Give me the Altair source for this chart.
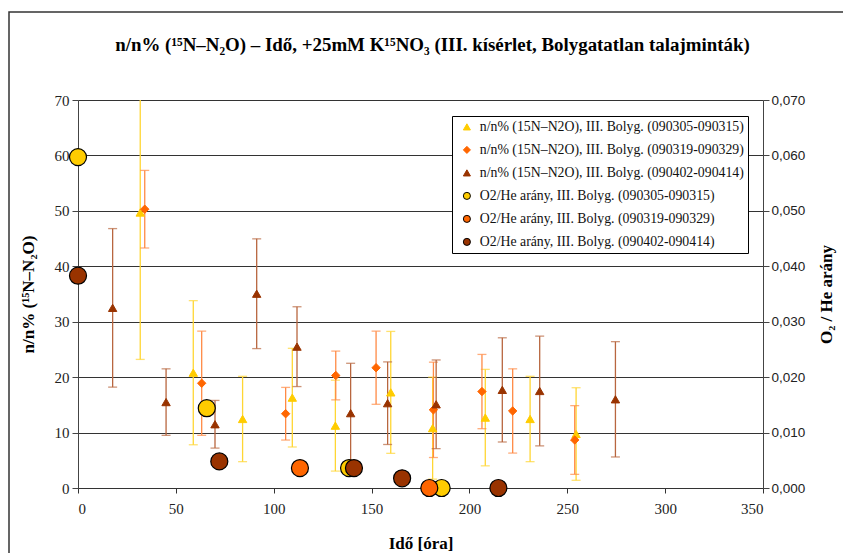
import altair as alt
import pandas as pd

# Series names (legend order) and their styling
SERIES = [
    "n/n% (15N–N2O), III. Bolyg. (090305-090315)",
    "n/n% (15N–N2O), III. Bolyg. (090319-090329)",
    "n/n% (15N–N2O), III. Bolyg. (090402-090414)",
    "O2/He arány, III. Bolyg. (090305-090315)",
    "O2/He arány, III. Bolyg. (090319-090329)",
    "O2/He arány, III. Bolyg. (090402-090414)",
]
FILL = ["#FFCC00", "#FF6600", "#993300", "#FFCC00", "#FF6600", "#993300"]
EDGE = ["#FFCC00", "#FF6600", "#993300", "#000000", "#000000", "#000000"]
WHISKER = ["#FFD633", "#FF8A45", "#B8663F"]
SHAPES = ["triangle-up", "diamond", "triangle-up", "circle", "circle", "circle"]

# n/n% (15N-N2O) measurements: time [h], mean, +/- error
YEL_T = [31.8, 58.9, 84.1, 109.5, 131.5, 159.8, 181.2, 208.1, 231.0, 254.5]
YEL_NN = [49.7, 20.8, 12.45, 16.3, 11.25, 17.25, 10.8, 12.7, 12.45, 9.74]
YEL_ERR = [26.5, 13.0, 7.7, 8.9, 8.2, 11.0, 9.2, 8.7, 7.7, 8.35]

ORG_T = [34.1, 63.2, 106.1, 131.7, 152.3, 181.6, 206.4, 222.1, 253.8]
ORG_NN = [50.3, 18.9, 13.4, 20.3, 21.7, 14.1, 17.4, 13.9, 8.66]
ORG_ERR = [7.0, 9.4, 4.75, 4.4, 6.6, 8.6, 6.7, 7.6, 6.2]

BRN_T = [17.7, 45.0, 70.0, 91.3, 111.9, 139.3, 158.2, 183.0, 216.8, 235.9, 274.6]
BRN_NN = [32.5, 15.5, 11.5, 35.05, 25.5, 13.5, 15.3, 15.1, 17.7, 17.5, 16.0]
BRN_ERR = [14.3, 6.0, 4.3, 9.9, 7.2, 9.0, 7.45, 8.0, 9.4, 9.9, 10.4]

# O2/He ratio: time [h], ratio
YEL_O2_T = [0.0, 65.8, 138.5, 185.8]
YEL_O2 = [0.0597, 0.0144, 0.0036, 0.0]
ORG_O2_T = [113.4, 179.5]
ORG_O2 = [0.0036, 0.0]
BRN_O2_T = [0.0, 72.2, 141.0, 165.6, 214.8]
BRN_O2 = [0.0383, 0.0048, 0.0036, 0.00175, 0.0]


def nn_frame(name, t, v, e):
    return pd.DataFrame({
        "series": name, "ido": t, "nn": v,
        "lo": [a - b for a, b in zip(v, e)],
        "hi": [a + b for a, b in zip(v, e)],
    })


def o2_frame(name, t, v):
    return pd.DataFrame({"series": name, "ido": t, "o2": v})


nn = pd.concat([
    nn_frame(SERIES[0], YEL_T, YEL_NN, YEL_ERR),
    nn_frame(SERIES[1], ORG_T, ORG_NN, ORG_ERR),
    nn_frame(SERIES[2], BRN_T, BRN_NN, BRN_ERR),
], ignore_index=True)

o2 = pd.concat([
    o2_frame(SERIES[3], YEL_O2_T, YEL_O2),
    o2_frame(SERIES[4], ORG_O2_T, ORG_O2),
    o2_frame(SERIES[5], BRN_O2_T, BRN_O2),
], ignore_index=True)

SERIF = "Liberation Serif"
SANS = "Liberation Sans"

color_scale = alt.Scale(domain=SERIES, range=FILL)
shape_scale = alt.Scale(domain=SERIES, range=SHAPES)
stroke_scale = alt.Scale(domain=SERIES, range=EDGE)

LEGEND = alt.Legend(
    title=None, orient="none", legendX=374, legendY=16,
    padding=4, fillColor="white", strokeColor="black", cornerRadius=0,
    labelFont=SERIF, labelFontSize=13.8, labelColor="#111", labelLimit=400,
    labelOffset=6, rowPadding=8, symbolSize=50, symbolStrokeWidth=1,
    symbolOffset=4,
)

X_SCALE = alt.Scale(domain=[0, 350], nice=False)
X_AXIS = alt.Axis(
    title="Idő [óra]", values=list(range(0, 351, 50)), grid=False,
    domainColor="#333", tickColor="#333", tickSize=5,
    labelFont=SERIF, labelFontSize=15, labelColor="#222", labelPadding=8,
    titleFont=SERIF, titleFontSize=17, titleFontWeight="bold",
    titleColor="#000", titlePadding=19,
)

Y_LEFT = alt.Scale(domain=[0, 70], nice=False)
LEFT_AXIS = alt.Axis(
    title="n/n% (¹⁵N–N₂O)", values=list(range(0, 71, 10)),
    grid=True, gridColor="#333", gridWidth=1,
    domainColor="#444", tickColor="#444", tickSize=6,
    labelFont=SERIF, labelFontSize=15, labelColor="#222", labelPadding=3,
    titleFont=SERIF, titleFontSize=17, titleFontWeight="bold",
    titleColor="#000", titlePadding=17,
)

Y_RIGHT = alt.Scale(domain=[0, 0.07], nice=False)
RIGHT_AXIS = alt.Axis(
    orient="right", title="O₂ / He arány",
    values=[round(i * 0.01, 2) for i in range(8)],
    labelExpr="replace(format(datum.value, '.3f'), '.', ',')",
    grid=False, domainColor="#444", tickColor="#444", tickSize=6,
    labelFont=SANS, labelFontSize=13.5, labelColor="#222", labelPadding=2,
    titleFont=SERIF, titleFontSize=17, titleFontWeight="bold",
    titleColor="#000", titlePadding=14, titleAngle=270, titleBaseline="top",
)

x_enc = alt.X("ido:Q", scale=X_SCALE, axis=X_AXIS)

# error bars per series: vertical whiskers and end caps
error_layers = []
for name, col in zip(SERIES[:3], WHISKER):
    base = alt.Chart(nn).transform_filter(alt.datum.series == name)
    error_layers.append(
        base.mark_rule(color=col, strokeWidth=1.3, clip=True).encode(
            x=x_enc,
            y=alt.Y("lo:Q", scale=Y_LEFT, axis=LEFT_AXIS),
            y2="hi:Q",
        )
    )
    error_layers.append(
        base.transform_fold(["lo", "hi"], as_=["end", "bound"])
        .mark_tick(color=col, orient="horizontal", size=9, thickness=1.3, clip=True)
        .encode(
            x=x_enc,
            y=alt.Y("bound:Q", scale=Y_LEFT, axis=LEFT_AXIS),
        )
    )

points = alt.Chart(nn).mark_point(filled=True, size=70, opacity=1, strokeWidth=1).encode(
    x=x_enc,
    y=alt.Y("nn:Q", scale=Y_LEFT, axis=LEFT_AXIS),
    color=alt.Color("series:N", scale=color_scale, legend=LEGEND),
    shape=alt.Shape("series:N", scale=shape_scale, legend=LEGEND),
    stroke=alt.Stroke("series:N", scale=stroke_scale, legend=LEGEND),
)

left = alt.layer(*error_layers, points)

circles = alt.Chart(o2).mark_point(filled=True, size=290, opacity=1, strokeWidth=1.2).encode(
    x=x_enc,
    y=alt.Y("o2:Q", scale=Y_RIGHT, axis=RIGHT_AXIS),
    color=alt.Color("series:N", scale=color_scale, legend=LEGEND),
    shape=alt.Shape("series:N", scale=shape_scale, legend=LEGEND),
    stroke=alt.Stroke("series:N", scale=stroke_scale, legend=LEGEND),
)

# outer frame around the whole chart area
frame = alt.Chart(pd.DataFrame({"k": [0]})).mark_rect(
    filled=False, stroke="#333", strokeWidth=1.5
).encode(
    x=alt.value(-69), x2=alt.value(780), y=alt.value(-88), y2=alt.value(470)
)

chart = alt.layer(frame, left, circles).resolve_scale(
    y="independent"
).properties(
    width=685, height=388,
    padding={"left": 78, "top": 100, "right": 80, "bottom": 65},
    autosize=alt.AutoSizeParams(type="none"),
    title=alt.TitleParams(
        text="n/n% (¹⁵N–N₂O) – Idő, +25mM K¹⁵NO₃ (III. kísérlet, Bolygatatlan talajminták)",
        font=SERIF, fontSize=18.9, fontWeight="bold", color="#000",
        anchor="middle", offset=-44, dx=12,
    ),
).configure_view(strokeWidth=0).configure(background="white")

chart.save("out.html", embed_options={"renderer": "svg", "actions": False})
